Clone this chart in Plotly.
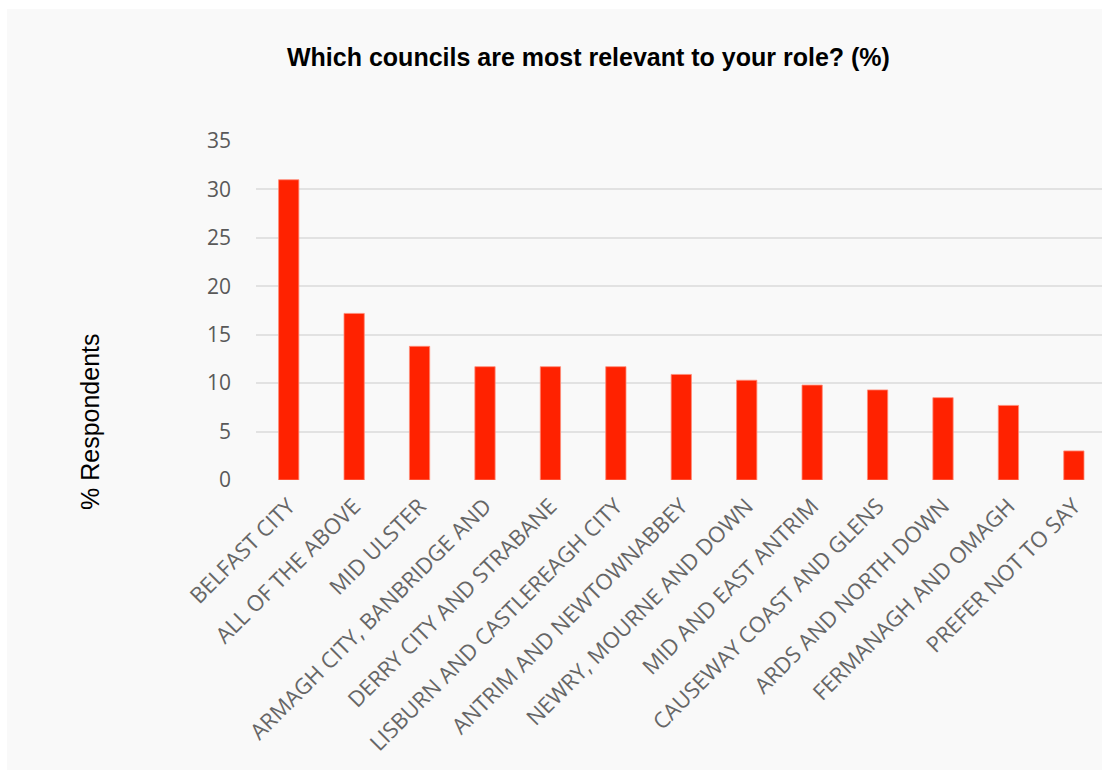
import plotly.graph_objects as go

categories = [
    "BELFAST CITY", "ALL OF THE ABOVE", "MID ULSTER", "ARMAGH CITY, BANBRIDGE AND",
    "DERRY CITY AND STRABANE", "LISBURN AND CASTLEREAGH CITY", "ANTRIM AND NEWTOWNABBEY",
    "NEWRY, MOURNE AND DOWN", "MID AND EAST ANTRIM", "CAUSEWAY COAST AND GLENS",
    "ARDS AND NORTH DOWN", "FERMANAGH AND OMAGH", "PREFER NOT TO SAY",
]
values = [31.0, 17.2, 13.8, 11.7, 11.7, 11.7, 10.9, 10.3, 9.8, 9.3, 8.5, 7.7, 3.0]
y_ticks = [0, 5, 10, 15, 20, 25, 30, 35]

title_text = "Which councils are most relevant to your role? (%)"
y_title = "% Respondents"

W, H = 1102, 770
L, R, T, B = 256, 0, 141, 290
pw, ph = W - L - R, H - T - B

def px_x(x):
    return (x - L) / pw

def px_y(y):
    return (H - B - y) / ph

fig = go.Figure(go.Bar(
    x=categories, y=values,
    marker=dict(color="#ff2200", line=dict(color="rgba(255,140,120,0.8)", width=1)),
    width=0.31,
))

fig.update_layout(
    width=W, height=H,
    margin=dict(l=L, r=R, t=T, b=B, pad=0),
    paper_bgcolor="white",
    plot_bgcolor="rgba(0,0,0,0)",
    showlegend=False,
    font=dict(family="Open Sans", color="#595959"),
    xaxis=dict(
        range=[-0.5, 12.43], tickangle=-45, showgrid=False, ticks="",
        tickfont=dict(family="Open Sans", size=22, color="#666666"),
        showline=False, zeroline=False, ticklabelstandoff=8,
    ),
    yaxis=dict(
        range=[0, 35], tickvals=y_ticks, showgrid=True, gridcolor="#e2e2e2", gridwidth=1.5,
        zeroline=False, showline=False, ticks="", ticklabelstandoff=24,
        tickfont=dict(family="Open Sans", size=21, color="#595959"),
    ),
    shapes=[dict(
        type="rect", xref="paper", yref="paper", layer="below",
        x0=px_x(7), x1=px_x(W + 5), y0=px_y(H + 5), y1=px_y(9),
        fillcolor="#f9f9f9", line=dict(width=0),
    )],
    annotations=[
        dict(text="<b>" + title_text + "</b>", xref="paper", yref="paper",
             x=px_x(588), y=px_y(57), xanchor="center", yanchor="middle", showarrow=False,
             font=dict(family="Liberation Sans", size=25, color="black")),
        dict(text=y_title, xref="paper", yref="paper", x=px_x(90), y=px_y(422),
             xanchor="center", yanchor="middle", textangle=-90, showarrow=False,
             font=dict(family="Liberation Sans", size=25, color="black")),
    ],
)

fig.write_html("out.html")
